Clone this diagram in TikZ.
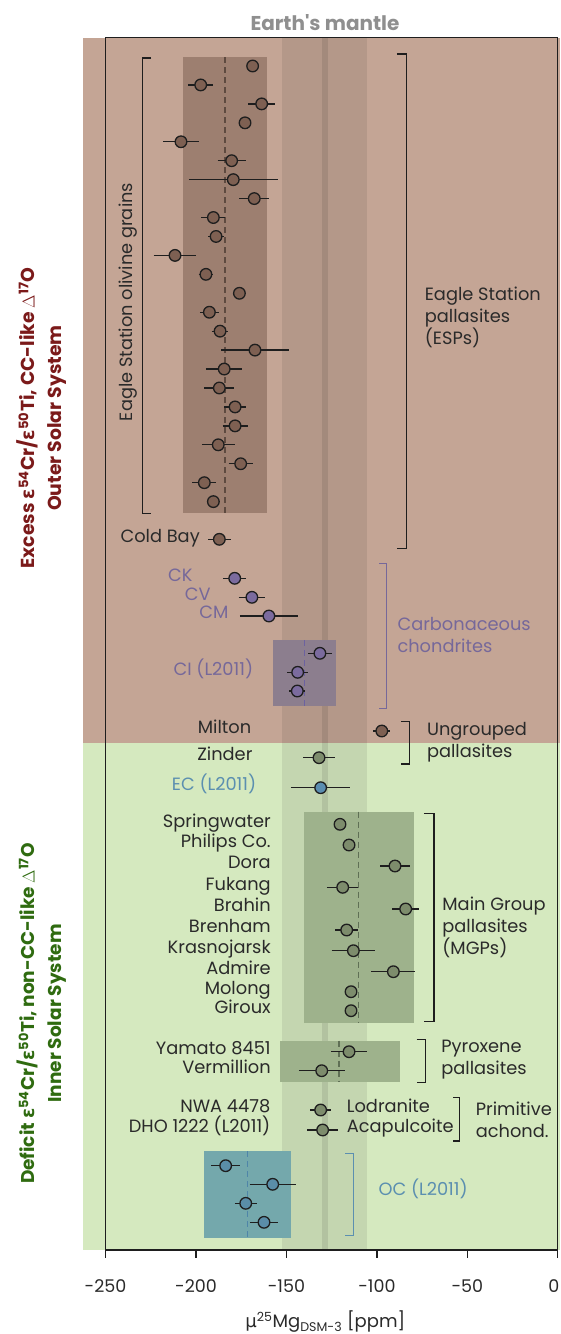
\documentclass[tikz,border=0pt]{standalone}
\usepackage{fontspec}
\setmainfont{Poppins}
\newfontfamily\grk{DejaVu Sans}

\definecolor{brownBg}{HTML}{C4A595}
\definecolor{greenBg}{HTML}{D5E9BF}
\definecolor{espBox}{HTML}{9D7F70}
\definecolor{ciBox}{HTML}{8C7E8E}
\definecolor{mgpBox}{HTML}{9EB28C}
\definecolor{ocBox}{HTML}{74A8AC}
\definecolor{espFill}{HTML}{7E6052}
\definecolor{ccFill}{HTML}{7B6B9E}
\definecolor{mgpFill}{HTML}{7D8C6C}
\definecolor{ecFill}{HTML}{5A8DB0}
\definecolor{ocFill}{HTML}{5A8DA8}
\definecolor{espDash}{HTML}{5E4A40}
\definecolor{ciDash}{HTML}{6C62A0}
\definecolor{mgpDash}{HTML}{5F6F55}
\definecolor{ocDash}{HTML}{4F85A8}
\definecolor{inkBlack}{HTML}{1E1E1E}
\definecolor{inkGray}{HTML}{2A2A2A}
\definecolor{ccText}{HTML}{76689A}
\definecolor{ecText}{HTML}{5B8FB0}
\definecolor{mantleGray}{HTML}{8F8F8F}
\definecolor{outerRed}{HTML}{7B1A1A}
\definecolor{innerGreen}{HTML}{2F6B10}

\begin{document}
\begin{tikzpicture}
[x=1.809pt,y=-1pt,
  dotDecorate/.style={shape=circle,inner sep=0pt,minimum size=11.6pt,draw=inkBlack,line width=1.3pt},
  barDecorate/.style={-,line width=1.3pt,draw=inkBlack},
  bracketDecorate/.style={-,line width=1.4pt,draw=inkBlack},
  dashDecorate/.style={dash pattern=on 6pt off 4pt,line width=1.3pt},
  nameDecorate/.style={anchor=mid east,inner sep=0pt,text=inkGray,font=\fontsize{17.8}{22}\selectfont},
  groupDecorate/.style={anchor=west,align=left,inner sep=0pt,text=inkGray,font=\fontsize{17.8}{22}\selectfont},
  axisDecorate/.style={-,line width=1.3pt,draw=inkBlack}]
\useasboundingbox (-308.35,0) rectangle (1.22,1334);
%% panels and Earth's mantle band
\fill[brownBg] (-262.3,37.7) rectangle (1.22,742.5);
\fill[greenBg] (-262.3,742.5) rectangle (1.22,1250);
\fill[black,opacity=0.08] (-152.3,37.7) rectangle (-105.3,1250);
\fill[black,opacity=0.09] (-130.5,37.7) rectangle (-127.1,1250);
\node (mantle) at (-128.7,23) [text=mantleGray,font=\bfseries\fontsize{20}{22}\selectfont] {Earth\textquotesingle s mantle};
%% group boxes and means
\fill[espBox] (-207,57.3) rectangle (-160.9,513.3);
\fill[ciBox] (-157.3,640) rectangle (-122.6,706);
\fill[mgpBox] (-140.3,811.7) rectangle (-79.5,1022.7);
\fill[mgpBox] (-153.5,1040.7) rectangle (-87.2,1081.7);
\fill[ocBox] (-195.4,1151) rectangle (-147.7,1238.3);
\draw[dashDecorate,espDash] (-184,57.3) -- (-184,513.3);
\draw[dashDecorate,ciDash] (-140.1,640) -- (-140.1,706);
\draw[dashDecorate,mgpDash] (-110.1,811.7) -- (-110.1,1022.7);
\draw[dashDecorate,mgpDash] (-121,1040.7) -- (-121,1081.7);
\draw[dashDecorate,ocDash] (-171.4,1151) -- (-171.4,1238.3);
%% frame and axis
\draw[axisDecorate] (-250,37.7) rectangle (0,1250);
\foreach \t/\p in {-250/-250,-200/-200,-150/-150,-100/-100,-50/-50,0/-2.2}
{
  \draw[axisDecorate] (\t,1250) -- (\t,1258);
  \node (tk\t) at (\p,1286) [text=inkGray,font=\fontsize{17.5}{20}\selectfont] {\t};
}
\node (xtitle) at (-128.5,1322) [text=inkGray,font=\fontsize{18}{20}\selectfont]
  {{\grk μ}\textsuperscript{25}Mg\textsubscript{DSM-3} [ppm]};
\node (outer) at (-285.3,418) [rotate=90,align=center,text=outerRed,font=\bfseries\fontsize{18.8}{27}\selectfont]
  {Excess {\grk\bfseries ε}\textsuperscript{54}Cr/{\grk\bfseries ε}\textsuperscript{50}Ti, CC-like $\Delta$\textsuperscript{17}O\\Outer Solar System};
\node (inner) at (-285.3,1013.5) [rotate=90,align=center,text=innerGreen,font=\bfseries\fontsize{18.5}{27}\selectfont]
  {Deficit {\grk\bfseries ε}\textsuperscript{54}Cr/{\grk\bfseries ε}\textsuperscript{50}Ti, non-CC-like $\Delta$\textsuperscript{17}O\\Inner Solar System};
%% brackets
\draw[bracketDecorate] (-224.8,57.8) -- (-229.5,57.8) -- (-229.5,513.3) -- (-224.8,513.3);
\draw[bracketDecorate] (-89,54) -- (-83.7,54) -- (-83.7,548.3) -- (-89,548.3);
\draw[bracketDecorate,ccText] (-98.8,563.3) -- (-94.6,563.3) -- (-94.6,708.3) -- (-98.8,708.3);
\draw[bracketDecorate] (-86.7,721.7) -- (-82.1,721.7) -- (-82.1,764) -- (-86.7,764);
\draw[bracketDecorate] (-74,813.3) -- (-68.4,813.3) -- (-68.4,1021.7) -- (-74,1021.7);
\draw[bracketDecorate] (-78,1039.3) -- (-73,1039.3) -- (-73,1082.7) -- (-78,1082.7);
\draw[bracketDecorate] (-57.9,1097.7) -- (-54.4,1097.7) -- (-54.4,1141) -- (-57.9,1141);
\draw[bracketDecorate,ecText] (-117.6,1153.3) -- (-113,1153.3) -- (-113,1235.7) -- (-117.6,1235.7);
%% Eagle Station olivine grains
\foreach \i/\x/\e in {1/-168.7/0, 2/-197.4/7, 3/-163.7/7.4, 4/-172.9/0, 5/-208.3/9.7,
  6/-180.3/7.7, 7/-179.4/24.5, 8/-167.8/8.3, 9/-190.4/6.7, 10/-188.9/4.2, 11/-211.6/11.8,
  12/-194.5/4, 13/-176/0, 14/-192.6/5.3, 15/-186.7/4.6, 16/-167.4/18.7, 17/-184.4/10.1,
  18/-187.1/8.3, 19/-178.4/6, 20/-178.4/6.9, 21/-187.7/9, 22/-175.3/6.7, 23/-195.4/6.7,
  24/-190.4/0}
{
  \draw[barDecorate] (\x-\e,{66+18.94*(\i-1)}) -- (\x+\e,{66+18.94*(\i-1)});
  \node (esp\i) at (\x,{66+18.94*(\i-1)}) [dotDecorate,fill=espFill] {};
}
\node (olivine) at (-237.5,302) [rotate=90,inner sep=0pt,text=inkGray,font=\fontsize{17.8}{22}\selectfont]
  {Eagle Station olivine grains};
\draw[barDecorate] (-193.3,539.3) -- (-180.9,539.3);
\node (coldbay) at (-187.1,539.3) [dotDecorate,fill=espFill] {};
\node (coldbay-txt) at (-197.8,539.3) [nameDecorate] {Cold Bay};
%% carbonaceous chondrites
\foreach \name/\txt/\x/\y/\e/\lx in {cc1/CK/-178.6/578.3/6.5/-201.8,
  cc2/CV/-169.1/597.3/7.3/-191.8, cc3/CM/-159.7/616/16/-181.9}
{
  \draw[barDecorate] (\x-\e,\y) -- (\x+\e,\y);
  \node (\name) at (\x,\y) [dotDecorate,fill=ccFill] {};
  \node (\name-txt) at (\lx,\y) [nameDecorate,text=ccText] {\txt};
}
\foreach \name/\x/\y/\e in {ci1/-131.5/653.3/6.5, ci2/-143.8/672.3/5.7, ci3/-144/691/4.4}
{
  \draw[barDecorate] (\x-\e,\y) -- (\x+\e,\y);
  \node (\name) at (\x,\y) [dotDecorate,fill=ccFill] {};
}
\node (ci-txt) at (-168.3,672.3) [nameDecorate,text=ccText] {CI (L2011)};
%% ungrouped pallasites and EC
\draw[barDecorate] (-102.1,731) -- (-92.5,731);
\node (milton) at (-97.3,731) [dotDecorate,fill=espFill] {};
\node (milton-txt) at (-169.4,731) [nameDecorate] {Milton};
\draw[barDecorate] (-140.7,757.7) -- (-123.3,757.7);
\node (zinder) at (-132,757.7) [dotDecorate,fill=mgpFill] {};
\node (zinder-txt) at (-168.7,757.7) [nameDecorate] {Zinder};
\draw[barDecorate] (-147.5,787.7) -- (-114.7,787.7);
\node (ec) at (-131.1,787.7) [dotDecorate,fill=ecFill] {};
\node (ec-txt) at (-166.6,787.7) [nameDecorate,text=ecText] {EC (L2011)};
%% main group and pyroxene pallasites
\foreach \name/\txt/\x/\y/\e in {
  mgp1/Springwater/-120.4/824.3/0,
  mgp2/Philips Co./-115.4/845/0,
  mgp3/Dora/-90/866/8.1,
  mgp4/Fukang/-118.9/887.3/8.7,
  mgp5/Brahin/-84.1/909/7.3,
  mgp6/Brenham/-116.7/930/6.2,
  mgp7/Krasnojarsk/-113/950.7/12,
  mgp8/Admire/-90.9/971.7/12.1,
  mgp9/Molong/-114.3/991.7/0,
  mgp10/Giroux/-114.3/1010.7/0,
  pyx1/Yamato 8451/-115.4/1051.7/9.7,
  pyx2/Vermillion/-130.5/1070.7/12.7}
{
  \draw[barDecorate] (\x-\e,\y) -- (\x+\e,\y);
  \node (\name) at (\x,\y) [dotDecorate,fill=mgpFill] {};
  \node (\name-txt) at (-158.6,\y) [nameDecorate] {\txt};
}
%% primitive achondrites
\foreach \name/\txt/\kind/\x/\y/\e in {
  ach1/NWA 4478/Lodranite/-131.1/1110/5.7,
  ach2/DHO 1222 (L2011)/Acapulcoite/-130/1130/8.6}
{
  \draw[barDecorate] (\x-\e,\y) -- (\x+\e,\y);
  \node (\name) at (\x,\y) [dotDecorate,fill=mgpFill] {};
  \node (\name-txt) at (-158.8,\y) [nameDecorate] {\txt};
  \node (\name-kind) at (-116.7,\y) [nameDecorate,anchor=mid west] {\kind};
}
%% ordinary chondrites
\foreach \name/\x/\y/\e in {oc1/-183.6/1165.7/8, oc2/-157.6/1184.3/12.8,
  oc3/-172.5/1203.3/6, oc4/-162.4/1222.3/7.8}
{
  \draw[barDecorate] (\x-\e,\y) -- (\x+\e,\y);
  \node (\name) at (\x,\y) [dotDecorate,fill=ocFill] {};
}
%% group names
\node (esp-grp) at (-73.6,317) [groupDecorate] {Eagle Station\\pallasites\\(ESPs)};
\node (cc-grp) at (-88.7,634.8) [groupDecorate,text=ccText] {Carbonaceous\\chondrites};
\node (ung-grp) at (-72.4,742) [groupDecorate] {Ungrouped\\pallasites};
\node (mgp-grp) at (-63.9,927.5) [groupDecorate] {Main Group\\pallasites\\(MGPs)};
\node (pyx-grp) at (-64.5,1060) [groupDecorate] {Pyroxene\\pallasites};
\node (ach-grp) at (-45.4,1119.7) [groupDecorate] {Primitive\\achond.};
\node (oc-grp) at (-99.2,1192.3) [groupDecorate,anchor=mid west,text=ecText] {OC (L2011)};
\end{tikzpicture}
\end{document}
